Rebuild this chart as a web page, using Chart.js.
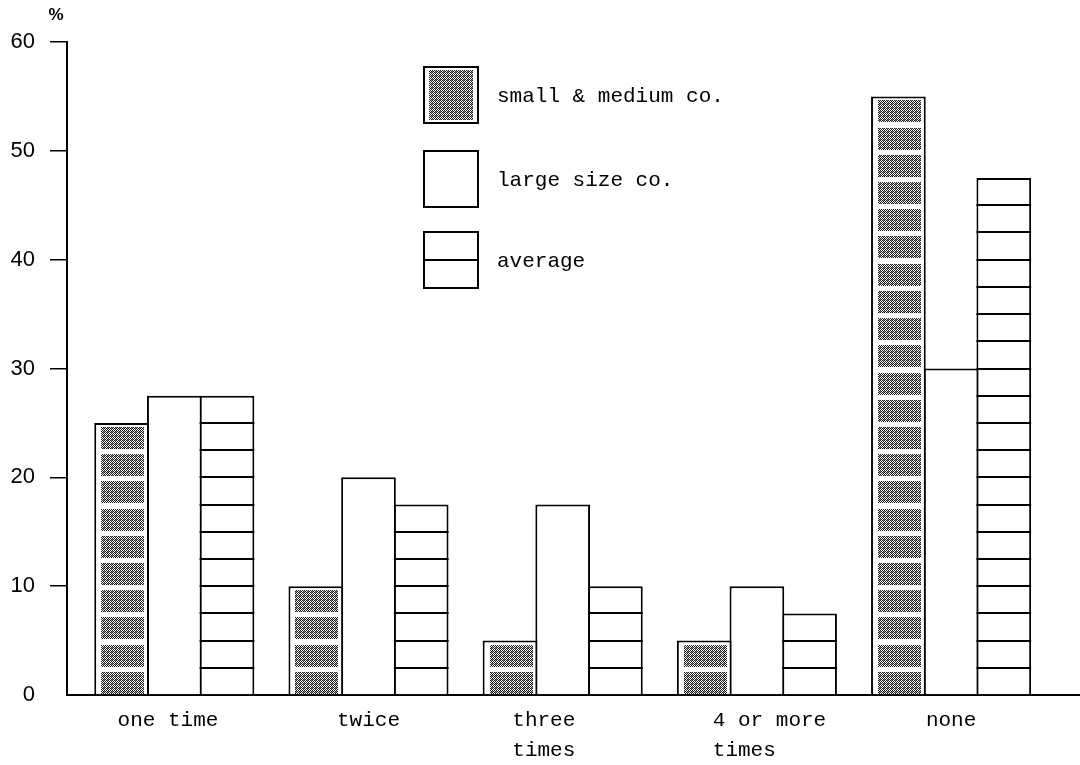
<!DOCTYPE html>
<html>
<head>
<meta charset="utf-8">
<script src="https://cdn.jsdelivr.net/npm/chart.js@4.4.1/dist/chart.umd.min.js"></script>
<style>
  html, body { margin: 0; padding: 0; background: #fff; }
  #wrap { width: 1080px; height: 765px; }
</style>
</head>
<body>
<div id="wrap"><canvas id="c" width="1080" height="765"></canvas></div>
<script>
// ---- data ----
const categories = ['one time', 'twice', 'three times', '4 or more times', 'none'];
const xTickLabels = [['one time '], ['twice'], ['three   ', 'times   '], ['  4 or more', '  times    '], ['none']];
const seriesNames = ['small & medium co.', 'large size co.', 'average'];
const smallMedium = [25, 10, 5, 5, 55];
const largeSize = [27.5, 20, 17.5, 10, 30];
const average = [27.5, 17.5, 10, 7.5, 47.5];
const yTickValues = [0, 10, 20, 30, 40, 50, 60];
const yUnit = '%';

// ---- stipple pattern ----
function makeStipple() {
  const pc = document.createElement('canvas');
  pc.width = 4; pc.height = 4;
  const p = pc.getContext('2d');
  p.fillStyle = '#1a1a1a';
  const dots = [[0,0],[2,0],[1,1],[3,1],[0,2],[2,2],[3,3],[1,3]];
  dots.forEach(d => p.fillRect(d[0], d[1], 1, 1));
  p.fillStyle = '#888';
  [[3,0],[0,3]].forEach(d => p.fillRect(d[0], d[1], 1, 1));
  return p.createPattern(pc, 'repeat');
}

const ctx0 = document.getElementById('c').getContext('2d');
const stipple = makeStipple();
const MONO = '"Liberation Mono", "DejaVu Sans Mono", monospace';
const SANS = '"Liberation Sans", Arial, sans-serif';

function stippleRect(ctx, l, t, r, b) {
  ctx.save();
  ctx.fillStyle = stipple;
  ctx.fillRect(Math.round(l), Math.round(t), Math.round(r - l), Math.round(b - t));
  ctx.restore();
}

const decorPlugin = {
  id: 'decor',
  afterDatasetsDraw(chart) {
    const ctx = chart.ctx;
    const ys = chart.scales.y;
    // stipple blocks in small & medium bars
    chart.getDatasetMeta(0).data.forEach((bar, i) => {
      const v = smallMedium[i];
      const l = bar.x - bar.width / 2 + 7;
      const r = bar.x + bar.width / 2 - 5;
      for (let a = 0; a < v; a += 2.5) {
        const b = Math.min(a + 2.5, v);
        stippleRect(ctx, l, ys.getPixelForValue(b) + 4, r, ys.getPixelForValue(a) - 1);
      }
    });
    // horizontal lines in average bars
    ctx.save();
    ctx.strokeStyle = '#000';
    ctx.lineWidth = 2;
    chart.getDatasetMeta(2).data.forEach((bar, i) => {
      const v = average[i];
      const l = bar.x - bar.width / 2;
      const r = bar.x + bar.width / 2;
      for (let a = 2.5; a < v - 0.01; a += 2.5) {
        const yy = Math.round(ys.getPixelForValue(a));
        ctx.beginPath();
        ctx.moveTo(l, yy);
        ctx.lineTo(r, yy);
        ctx.stroke();
      }
    });
    ctx.restore();
  },
  afterDraw(chart) {
    const ctx = chart.ctx;
    ctx.save();
    // unit label
    ctx.fillStyle = '#000';
    ctx.font = 'bold 17px ' + SANS;
    ctx.textAlign = 'center';
    ctx.textBaseline = 'middle';
    ctx.fillText(yUnit, 56, 15);
    // legend
    const bx = 424, bw = 54, bh = 56;
    const tops = [67, 151, 232];
    ctx.lineWidth = 2;
    ctx.strokeStyle = '#000';
    tops.forEach((t, k) => {
      ctx.fillStyle = '#fff';
      ctx.fillRect(bx, t, bw, bh);
      if (k === 0) {
        stippleRect(ctx, bx + 5, t + 3, bx + bw - 5, t + bh - 3);
      }
      ctx.strokeRect(bx, t, bw, bh);
      if (k === 2) {
        ctx.beginPath();
        ctx.moveTo(bx, t + bh / 2);
        ctx.lineTo(bx + bw, t + bh / 2);
        ctx.stroke();
      }
      ctx.fillStyle = '#000';
      ctx.font = '21px ' + MONO;
      ctx.textAlign = 'left';
      ctx.textBaseline = 'middle';
      ctx.fillText(seriesNames[k], 497, t + bh / 2 + 1);
    });
    ctx.restore();
  }
};

const toPts = arr => arr.map((v, i) => ({ x: i, y: v }));
const barCommon = {
  borderColor: '#000',
  borderWidth: 2,
  borderSkipped: 'bottom',
  backgroundColor: '#fff',
  categoryPercentage: 0.814,
  barPercentage: 1.038
};

new Chart(ctx0, {
  type: 'bar',
  data: {
    datasets: [
      Object.assign({ label: seriesNames[0], data: toPts(smallMedium) }, barCommon),
      Object.assign({ label: seriesNames[1], data: toPts(largeSize) }, barCommon),
      Object.assign({ label: seriesNames[2], data: toPts(average) }, barCommon)
    ]
  },
  options: {
    responsive: false,
    devicePixelRatio: 1,
    animation: false,
    layout: { padding: { top: 42, right: 0, bottom: 0, left: 0 } },
    plugins: { legend: { display: false }, tooltip: { enabled: false } },
    scales: {
      x: {
        type: 'linear',
        offset: false,
        min: -0.5525,
        max: 4.6638,
        afterFit(scale) { scale.height = 70; },
        afterBuildTicks(scale) {
          scale.ticks = categories.map((c, i) => ({ value: i }));
        },
        ticks: {
          autoSkip: false,
          maxRotation: 0,
          includeBounds: false,
          padding: 10,
          color: '#000',
          font: { family: MONO, size: 21, lineHeight: 1.45 },
          callback(value) { return xTickLabels[value] || ''; }
        },
        grid: { display: false, drawTicks: false, offset: false },
        border: { display: true, color: '#000', width: 2 }
      },
      y: {
        min: 0,
        max: 60,
        afterFit(scale) { scale.width = 67; },
        afterBuildTicks(scale) {
          scale.ticks = yTickValues.map(v => ({ value: v }));
        },
        ticks: {
          padding: 15,
          color: '#000',
          font: { family: SANS, size: 22 },
          callback(value) { return String(value); }
        },
        grid: {
          drawOnChartArea: false,
          drawTicks: true,
          tickLength: 17,
          lineWidth: 1.5,
          color: ctx => (ctx.tick && ctx.tick.value === 0) ? 'rgba(0,0,0,0)' : '#000'
        },
        border: { display: true, color: '#000', width: 2 }
      }
    }
  },
  plugins: [decorPlugin]
});
</script>
</body>
</html>
